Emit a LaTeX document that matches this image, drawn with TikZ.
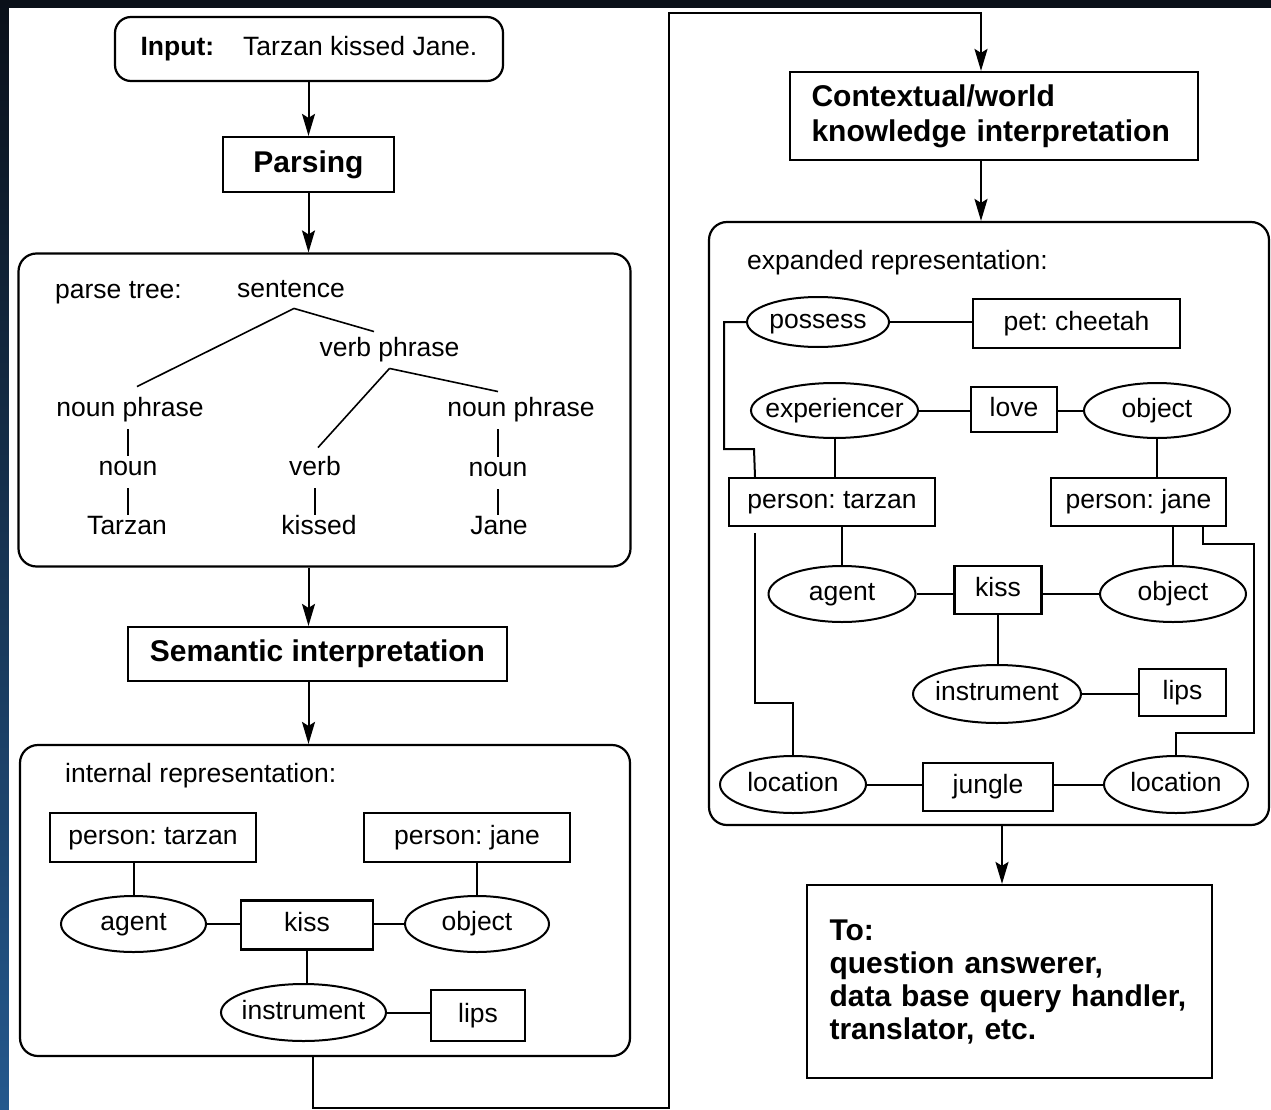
\documentclass[tikz,border=0pt]{standalone}
\usepackage{fontspec}
\setmainfont{Liberation Sans}
\usepackage{tikz}
\usetikzlibrary{arrows.meta,positioning,shapes}
\definecolor{navy}{HTML}{0A1019}
\definecolor{stripe}{HTML}{24588D}
\newcommand{\ovt}[1]{\makebox[0pt]{#1}}
\frenchspacing
\tikzset{
    %Define standard arrow tip
    >={Stealth[length=22pt,width=13pt,inset=4pt]},
    %Define text styles
    txt/.style={
           font=\fontsize{26.5}{31}\selectfont,
           text height=19pt,
           text depth=5.5pt,
           inner sep=0pt},
    btxt/.style={
           font=\fontsize{30}{35}\selectfont\bfseries,
           inner sep=0pt},
    sz/.style 2 args={
           minimum width=#1pt,
           minimum height=#2pt},
    %Define style for boxes
    rbox/.style={
           rectangle,
           rounded corners=18pt,
           draw=black, line width=2.2pt,
           inner sep=0pt},
    sbox/.style={
           rectangle,
           draw=black, line width=2.2pt,
           txt},
    hbox/.style={
           rectangle,
           draw=black, line width=2.2pt,
           btxt},
    ovl/.style={
           ellipse,
           draw=black, line width=2pt,
           txt},
    % Define line styles
    lnk/.style={
           draw,
           line width=2pt},
    tree/.style={
           draw,
           line width=1.6pt},
    tl/.style={
           draw,
           line width=1.6pt,
           shorten <=7pt,
           shorten >=1pt},
    arr/.style={
           ->,
           line width=2pt}
}

\begin{document}
\begin{tikzpicture}[x=1pt, y=-1pt]
    \useasboundingbox (0,0) rectangle (1271,1110);
    % BACKGROUND
    \fill[navy] (0,0) rectangle (1271,1110);
    \shade[top color=navy, bottom color=stripe] (0,0) rectangle (9,1110);
    \fill[white] (9,8) rectangle (1271,1110);

    % LEFT COLUMN
    \node[rbox, txt, rounded corners=16pt, sz={388}{64}] (inp) at (309,49)
        {\textbf{Input:}\hspace{29pt}Tarzan kissed Jane.};
    \node[hbox, sz={171}{55}] (par) at (308.5,164.5) {Parsing};

    % parse tree
    \node[rbox, sz={612}{313}] (tree) at (324.5,410) {};
    \node[txt, anchor=west] (ptl) at (55,292) {parse tree:};
    \node[txt] (sen) at (291,291) {sentence};
    \node[txt] (vp) at (389.5,350) {verb phrase};
    \node[txt] (np1) at (130,410) {noun phrase};
    \node[txt] (np2) at (521,410) {noun phrase};
    \node[txt] (n1) at (128,469) {noun};
    \node[txt] (vb) at (315,469) {verb};
    \node[txt] (n2) at (498,470) {noun};
    \node[txt] (w1) at (127,528) {Tarzan};
    \node[txt] (w2) at (319,528) {kissed};
    \node[txt] (w3) at (499,528) {Jane};

    \draw[tree] ([xshift=3pt,yshift=-5pt]sen.south) -- ([xshift=7pt,yshift=11pt]np1.north);
    \draw[tree] ([xshift=3pt,yshift=-5pt]sen.south) -- ([xshift=-15.5pt,yshift=6pt]vp.north);
    \draw[tree] ([yshift=-6pt]vp.south) -- ([xshift=3pt,yshift=9pt]vb.north);
    \draw[tree] ([yshift=-6pt]vp.south) -- ([xshift=-23pt,yshift=6pt]np2.north);
    \draw[tl] (n1 |- np1.south) -- (n1.north);
    \draw[tl] (n1.south) -- (n1.south |- w1.north);
    \draw[tl] (vb.south) -- (vb.south |- w2.north);
    \draw[tl] (n2 |- np2.south) -- (n2.north);
    \draw[tl] (n2.south) -- (n2.south |- w3.north);

    \node[hbox, sz={379}{54}] (sem) at (317.5,654) {Semantic interpretation};

    % internal representation
    \node[rbox, sz={610}{311}] (intl) at (325,900.5) {};
    \node[txt, anchor=west] (irl) at (65,776) {internal representation:};
    \node[sbox, sz={206}{49}] (pt1) at (153,837.5) {person: tarzan};
    \node[sbox, sz={206}{49}] (pj1) at (467,837.5) {person: jane};
    \node[ovl, sz={145}{56}] (ag1) at (133.5,924) {\ovt{agent}};
    \node[sbox, sz={132}{49}] (ks1) at (307,925) {kiss};
    \node[ovl, sz={144}{56}] (ob1) at (477,924) {\ovt{object}};
    \node[ovl, sz={165}{57}] (in1) at (303.5,1012.5) {\ovt{instrument}};
    \node[sbox, sz={94}{51}] (lp1) at (478,1015.5) {lips};

    \draw[lnk] (ag1 |- pt1.south) -- (ag1.north);
    \draw[lnk] (ob1 |- pj1.south) -- (ob1.north);
    \draw[lnk] (ag1.east) -- (ag1.east -| ks1.west);
    \draw[lnk] (ob1.west -| ks1.east) -- (ob1.west);
    \draw[lnk] (ks1.south) -- (ks1.south |- in1.north);
    \draw[lnk] (in1.east) -- (in1.east -| lp1.west);

    \draw[arr] (inp.south -| par) -- (par.north);
    \draw[arr] (par.south) -- (par.south |- tree.north);
    \draw[arr] (par |- tree.south) -- (par |- sem.north);
    \draw[arr] (par |- sem.south) -- (par |- intl.north);

    % RIGHT COLUMN
    \node[hbox, sz={408}{88}, text width=365pt, align=left] (ctx) at (994,116)
        {Contextual/world\\knowledge interpretation};

    % expanded representation
    \node[rbox, sz={560}{603}] (exp) at (989,523.5) {};
    \node[txt, anchor=west] (erl) at (747,263) {expanded representation:};
    \node[ovl, sz={142}{50}] (ps) at (818,322) {\ovt{possess}};
    \node[sbox, sz={207}{49}] (pc) at (1076.5,323.5) {pet: cheetah};
    \node[ovl, sz={167}{55}] (ex) at (834.5,410.5) {\ovt{experiencer}};
    \node[sbox, sz={86}{45}] (lv) at (1014,409.5) {love};
    \node[ovl, sz={146}{55}] (ob2) at (1157,410.5) {\ovt{object}};
    \node[sbox, sz={206}{48}] (pt2) at (832,502) {person: tarzan};
    \node[sbox, sz={175}{48}] (pj2) at (1138.5,502) {person: jane};
    \node[ovl, sz={147}{56}] (ag2) at (842,594) {\ovt{agent}};
    \node[sbox, sz={87}{48}] (ks2) at (998,590) {kiss};
    \node[ovl, sz={146}{56}] (ob3) at (1173,594) {\ovt{object}};
    \node[ovl, sz={168}{58}] (in2) at (997,694) {\ovt{instrument}};
    \node[sbox, sz={87}{47}] (lp2) at (1182.5,692.5) {lips};
    \node[ovl, sz={146}{57}] (lo1) at (793,784.5) {\ovt{location}};
    \node[sbox, sz={130}{48}] (jg) at (988,787) {jungle};
    \node[ovl, sz={144}{57}] (lo2) at (1176,784.5) {\ovt{location}};

    \draw[lnk] (ps.east) -- (ps.east -| pc.west);
    \draw[lnk] (ex.east) -- (ex.east -| lv.west);
    \draw[lnk] (ob2.west -| lv.east) -- (ob2.west);
    \draw[lnk] (ex.south) -- (ex.south |- pt2.north);
    \draw[lnk] (ob2.south) -- (ob2.south |- pj2.north);
    \draw[lnk] (ag2 |- pt2.south) -- (ag2.north);
    \draw[lnk] (ob3 |- pj2.south) -- (ob3.north);
    \draw[lnk] (ag2.east) -- (ag2.east -| ks2.west);
    \draw[lnk] (ob3.west -| ks2.east) -- (ob3.west);
    \draw[lnk] (ks2.south) -- (ks2.south |- in2.north);
    \draw[lnk] (in2.east) -- (in2.east -| lp2.west);
    \draw[lnk] (lo1.east) -- (lo1.east -| jg.west);
    \draw[lnk] (lo2.west -| jg.east) -- (lo2.west);
    % elbow links
    \draw[lnk] (ps.west) -- ++(-22,0) |- ++(30,127) -- ([xshift=-77pt]pt2.north);
    \draw[lnk] ([xshift=-77pt,yshift=-6pt]pt2.south) -- ++(0,170) -| (lo1.north);
    \draw[lnk] ([xshift=64.5pt]pj2.south) -- ++(0,17) -| ++(51,189) -| (lo2.north);

    \node[hbox, sz={405}{193}, text width=360pt, align=left,
          font=\fontsize{30}{33}\selectfont\bfseries] (to) at (1009.5,981.5)
        {To:\\question answerer,\\data base query handler,\\translator, etc.};

    \coordinate (lpb) at (669,1108);
    \coordinate (lpt) at (669,13);
    \draw[arr] ([xshift=-12pt]intl.south) |- (lpb) -- (lpt) -| ([xshift=-13pt]ctx.north);
    \draw[arr] ([xshift=-13pt]ctx.south) -- ([xshift=-13pt]ctx.south |- exp.north);
    \draw[arr] ([xshift=13pt]exp.south) -- ([xshift=13pt]exp.south |- to.north);
\end{tikzpicture}
\end{document}
